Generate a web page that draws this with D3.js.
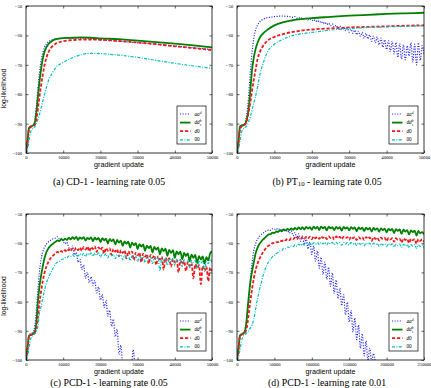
<!DOCTYPE html>
<html><head><meta charset="utf-8">
<script src="https://cdn.jsdelivr.net/npm/d3@7"></script>
<style>body{margin:0;background:#fff}svg{display:block}</style>
</head><body><svg id="c" width="431" height="388"></svg>
<script>
// ---------------- DATA ----------------
const seriesNames = ["aa", "dd", "d0", "00"];
const yTicks = [-100, -90, -80, -70, -60, -50];
const xTicks50k = [0, 10000, 20000, 30000, 40000, 50000];
const xTicks250k = [0, 50000, 100000, 150000, 200000, 250000];
const captions = ["CD-1 - learning rate 0.05", "PT", "PCD-1 - learning rate 0.05", "PCD-1 - learning rate 0.01"];

// Panel (a) CD-1 : smooth curves
const aX   = [0,400,800,1200,1600,2000,2400,2800,3200,3600,4000,4500,5000,5500,6000,7000,8000,10000,12500,15000,17500,20000,25000,30000,35000,40000,45000,50000];
const aAA  = [-100,-96,-91.5,-91,-90.8,-90.3,-88.5,-84,-78,-73,-69,-66,-64,-62.8,-62.2,-61.5,-61.2,-60.9,-60.9,-61,-61.2,-61.5,-62,-62.5,-63,-63.6,-64.2,-64.8];
const aDD  = [-100,-96,-91.5,-91,-90.8,-90.5,-89.5,-86,-81,-76,-72,-68,-65.5,-64,-63,-61.9,-61.3,-60.9,-60.8,-60.7,-60.8,-61,-61.3,-61.8,-62.3,-62.8,-63.4,-64.1];
const aD0  = [-100,-97,-92,-91.3,-91,-90.8,-90.3,-88.5,-85,-81,-77.5,-73.5,-70,-67.5,-65.8,-63.8,-62.8,-62,-61.6,-61.4,-61.4,-61.5,-61.9,-62.4,-63,-63.7,-64.3,-65];
const a00  = [-100,-99,-96,-93,-92,-91.5,-91,-90,-88.5,-87,-85,-82.5,-80,-77.5,-75.5,-73,-71,-69.2,-67.6,-66.5,-66.1,-66.2,-66.7,-67.5,-68.5,-69.5,-70.4,-71.2];

// Panel (b) PT10
const bX   = aX;
const bDD  = [-100,-96,-91,-90.6,-90.5,-90.3,-89.5,-87.5,-84,-78,-72,-67.5,-64.5,-62.5,-61,-59.3,-58.2,-56.6,-55.5,-54.8,-54.4,-54.1,-53.7,-53.3,-53,-52.7,-52.5,-52.3];
const bD0  = [-100,-97,-92,-91,-90.8,-90.5,-89.8,-88,-85.5,-82.5,-79,-75,-71.5,-68,-66,-63.5,-62,-60.5,-59.5,-58.8,-58.3,-58,-57.6,-57.3,-57.1,-56.9,-56.7,-56.6];
const b00  = [-100,-99,-96,-93,-92,-91.5,-91,-90.3,-89,-87.5,-85.5,-83,-80.5,-77.5,-74,-69.5,-66,-63,-61.2,-60,-59.4,-59,-58.2,-57.7,-57.3,-57.1,-56.9,-56.7];
const bAArise = [[0,-100],[400,-96],[800,-91.5],[1200,-91],[1600,-90.7],[2000,-90.2],[2400,-88.5],[2800,-85],[3200,-79],[3600,-72],[4000,-66],[4500,-61],[5000,-58],[5500,-56.5],[6000,-55.5],[7000,-54.5],[8000,-54],[9000,-53.8],[10000,-53.6],[11000,-53.5],[12000,-53.4],[13000,-53.5],[14000,-53.6]];
// sampled every 500 from 14500
const bAAnoisy = [-53.7,-53.9,-53.6,-54.1,-53.9,-54.3,-54.0,-54.5,-54.2,-54.7,-54.4,-55.0,-54.6,-55.3,-54.9,-55.6,-55.2,-56.0,-55.5,-56.3,-55.8,-56.7,-56.1,-57.2,-56.5,-57.5,-56.8,-58.0,-57.2,-58.4,-57.5,-58.9,-57.9,-59.3,-58.2,-59.8,-58.6,-60.3,-59.0,-61.0,-59.3,-61.2,-59.8,-62.0,-60.2,-62.5,-60.5,-63.2,-60.9,-64.0,-61.5,-64.8,-61.8,-65.5,-62.0,-66.3,-62.4,-67.5,-62.8,-68.0,-63.2,-68.3,-63.5,-67.0,-62.5,-69.0,-63.0,-70.0,-62.5,-68.5,-63.5,-66.5];

// Panel (c) PCD-1 lr 0.05 : rise then noisy (every 500 from 8000)
const cRiseX = [0,400,800,1200,1600,2000,2400,2800,3200,3600,4000,4500,5000,5500,6000,6500,7000,7500];
const cDDrise = [-100,-96,-91.8,-91.4,-91.2,-91,-90.2,-87,-80,-75,-71.5,-68,-65,-63,-61.8,-61,-60.4,-59.9];
const cD0rise = [-100,-96.5,-92,-91.5,-91.3,-91,-90.5,-89,-85.5,-80.5,-77,-73,-70,-68,-66.5,-65.3,-64.6,-64.0];
const c00rise = [-100,-99,-96,-93,-92,-91.5,-91,-90.2,-88.5,-84,-82,-79,-76,-73.5,-72,-70.5,-69.2,-68];
const cAArise = [-100,-96,-91.5,-91,-90.8,-90.2,-88,-83,-76,-70,-66,-63,-61.3,-60.3,-59.6,-59.1,-58.7,-58.4];
const cDDnoisy = [-59.5,-59.0,-59.3,-58.6,-59.0,-58.4,-58.9,-58.1,-58.7,-57.9,-58.6,-57.8,-58.9,-58.0,-58.5,-57.9,-59.1,-58.2,-58.6,-58.0,-59.3,-58.1,-58.8,-58.2,-59.6,-58.3,-59.0,-58.4,-60.1,-58.6,-59.3,-58.7,-60.4,-58.9,-59.8,-59.1,-60.9,-59.4,-60.2,-59.5,-61.5,-59.8,-60.7,-60.0,-62.0,-60.3,-61.2,-60.4,-62.6,-60.8,-61.7,-60.9,-63.2,-61.3,-62.2,-61.4,-63.8,-61.8,-62.7,-61.9,-64.3,-62.3,-63.3,-62.4,-65.0,-62.8,-63.8,-62.9,-65.5,-63.3,-64.4,-63.5,-66.2,-63.9,-65.0,-64.0,-66.8,-64.4,-65.6,-64.5,-67.0,-64.8,-65.9,-63.5,-62.8];
const cD0noisy = [-63.4,-63.0,-63.3,-62.7,-63.1,-62.4,-62.9,-62.1,-62.7,-61.8,-62.5,-61.6,-62.4,-61.5,-62.6,-61.3,-62.2,-61.2,-62.8,-61.3,-62.0,-61.1,-63.0,-61.4,-62.3,-61.5,-63.5,-61.7,-62.6,-61.8,-64.0,-62.0,-62.9,-62.1,-64.5,-62.4,-63.3,-62.5,-65.2,-62.8,-63.7,-62.9,-65.8,-63.2,-64.2,-63.3,-66.5,-63.6,-64.6,-63.8,-67.0,-64.0,-65.0,-64.2,-67.5,-64.5,-65.6,-64.6,-69.0,-65.0,-66.0,-65.1,-68.0,-65.4,-66.5,-65.6,-70.0,-65.9,-67.2,-66.1,-69.5,-66.5,-67.8,-66.8,-72.0,-67.2,-68.5,-67.5,-74.0,-67.8,-69.5,-68.0,-73.0,-68.4,-69.5];
const c00noisy = [-67.0,-66.5,-66.2,-65.6,-65.4,-64.9,-65.0,-64.4,-64.6,-64.0,-64.5,-63.8,-64.4,-63.6,-64.2,-63.5,-64.6,-63.4,-64.0,-63.3,-64.5,-63.4,-64.1,-63.3,-64.8,-63.5,-64.2,-63.6,-65.0,-63.7,-64.3,-63.8,-65.3,-63.9,-64.5,-64.0,-65.6,-64.1,-64.7,-64.2,-66.0,-64.3,-65.0,-64.4,-66.3,-64.5,-65.2,-64.6,-66.6,-64.7,-65.4,-64.8,-67.0,-64.9,-65.6,-65.0,-69.5,-65.1,-65.8,-65.2,-67.5,-65.3,-66.0,-65.4,-67.8,-65.5,-66.2,-65.6,-68.0,-65.7,-66.4,-65.8,-68.4,-65.9,-66.6,-66.0,-68.8,-66.1,-66.8,-66.2,-69.0,-66.3,-67.0,-65.5,-66.5];
const cAAnoisy = [-58.2,-57.8,-58.6,-58.3,-59.4,-60.2,-59.6,-61.5,-62.0,-61.0,-64.0,-63.2,-66.5,-65.5,-69.0,-67.5,-72.0,-70.0,-73.5,-71.5,-74.5,-72.8,-77.0,-75.0,-79.5,-77.5,-82.0,-79.5,-85.0,-83.0,-88.5,-86.0,-92.0,-89.5,-98.0,-95.0,-101];
const cAAtail = [[28400,-101],[28800,-96.5],[29200,-101]];

// Panel (d) PCD-1 lr 0.01 : rise then noisy (every 2500 from 40000)
const dRiseX = [0,2000,4000,6000,8000,10000,12000,14000,16000,18000,20000,22500,25000,27500,30000,32500,35000,37500];
const dDDrise = [-100,-96,-91.6,-91.2,-91,-90.5,-88.5,-83,-77.5,-73,-69.8,-66.5,-63.4,-61.5,-60.3,-59.4,-58.7,-58.1];
const dD0rise = [-100,-96.5,-92,-91.4,-91.1,-90.8,-90,-87.5,-83.5,-79.5,-76,-72,-69,-67,-65.4,-64.1,-63,-62.1];
const d00rise = [-100,-99,-96.5,-93.5,-92,-91.5,-91,-90.5,-89.8,-89,-88,-86,-82.5,-79,-76,-73.5,-71,-69];
const dAArise = [-100,-96,-91.5,-91.1,-90.8,-90,-87.5,-84,-79.5,-72.5,-67,-62.5,-60,-58.6,-57.7,-57.0,-56.5,-56.0];
const dDDnoisy = [-57.5,-57.0,-56.9,-56.4,-56.5,-56.0,-56.1,-55.6,-55.9,-55.3,-55.6,-55.1,-55.5,-54.9,-55.4,-54.8,-55.3,-54.6,-55.2,-54.5,-55.3,-54.4,-55.0,-54.5,-55.4,-54.3,-55.0,-54.4,-55.5,-54.3,-54.9,-54.4,-55.6,-54.3,-54.9,-54.5,-55.5,-54.4,-55.0,-54.5,-55.7,-54.4,-55.0,-54.6,-55.6,-54.5,-55.1,-54.6,-55.9,-54.6,-55.2,-54.7,-55.8,-54.7,-55.3,-54.8,-56.0,-54.8,-55.4,-54.9,-56.1,-54.9,-55.5,-55.0,-56.3,-55.1,-55.6,-55.1,-56.5,-55.2,-55.8,-55.3,-56.8,-55.4,-56.0,-55.5,-57.0,-55.6,-56.2,-55.7,-57.4,-55.8,-56.6,-56.2,-57.0];
const dD0noisy = [-61.3,-60.8,-60.5,-60.0,-60.0,-59.6,-59.6,-59.1,-59.3,-58.8,-59.0,-58.5,-58.9,-58.3,-58.6,-58.1,-58.6,-58.0,-58.5,-57.9,-58.5,-57.8,-58.3,-57.8,-58.6,-57.7,-58.3,-57.8,-58.5,-57.7,-58.2,-57.8,-58.6,-57.7,-58.2,-57.8,-58.7,-57.7,-58.3,-57.8,-58.6,-57.8,-58.3,-57.9,-58.8,-57.8,-58.3,-57.9,-58.9,-57.9,-58.4,-58.0,-58.9,-57.9,-58.5,-58.0,-59.2,-58.0,-58.5,-58.1,-59.1,-58.1,-58.6,-58.2,-59.3,-58.2,-58.7,-58.3,-59.5,-58.3,-58.8,-58.4,-59.8,-58.4,-58.9,-58.5,-60.0,-58.5,-59.0,-58.6,-60.2,-58.6,-59.2,-58.7,-59.5];
const d00noisy = [-67.5,-66.3,-65.5,-64.6,-64.2,-63.5,-63.2,-62.6,-62.5,-61.8,-61.9,-61.3,-61.5,-60.9,-61.2,-60.6,-61.0,-60.3,-60.8,-60.1,-60.7,-60.0,-60.5,-59.9,-60.6,-59.8,-60.3,-59.8,-60.5,-59.7,-60.2,-59.7,-60.6,-59.7,-60.2,-59.7,-60.5,-59.7,-60.2,-59.8,-60.7,-59.8,-60.3,-59.8,-60.6,-59.8,-60.3,-59.9,-60.8,-59.9,-60.4,-59.9,-60.9,-60.0,-60.4,-60.0,-61.0,-60.0,-60.5,-60.1,-61.1,-60.1,-60.6,-60.2,-61.2,-60.2,-60.7,-60.2,-61.3,-60.3,-60.8,-60.3,-61.5,-60.4,-60.9,-60.4,-61.6,-60.5,-61.0,-60.5,-61.8,-60.6,-61.1,-60.6,-61.5];
const dAAnoisy = [-55.8,-55.4,-55.6,-55.1,-55.3,-54.9,-55.4,-55.0,-55.7,-55.2,-56.0,-55.6,-56.6,-55.8,-57.4,-56.4,-58.2,-56.8,-59.3,-57.6,-60.5,-58.2,-62.0,-59.6,-63.8,-61.0,-66.2,-62.6,-68.6,-64.8,-70.8,-66.5,-72.4,-68.2,-74.8,-70.2,-77.2,-72.6,-79.0,-75.4,-81.4,-77.6,-84.5,-80.2,-87.0,-83.0,-90.4,-85.6,-93.0,-88.0,-96.0,-91.0,-98.6,-93.5,-100.2,-96.0,-101,-97.8,-101];

// ---------------- BUILD ----------------
const zip = (xs, ys) => ys.map((y, i) => [xs[i], y]);
const grid = (start, step, ys) => ys.map((y, i) => [start + i * step, y]);

const panels = [
  { x0: 26, x1: 212, y0: 6, y1: 153, xmax: 50000, xt: xTicks50k, ylab: true, letter: "a", capX: 109, capY: 184.5,
    series: { aa: zip(aX, aAA), dd: zip(aX, aDD), d0: zip(aX, aD0), "00": zip(aX, a00) } },
  { x0: 237, x1: 424, y0: 6, y1: 153, xmax: 50000, xt: xTicks50k, ylab: false, letter: "b", capX: 327, capY: 184.5,
    series: { aa: bAArise.concat(grid(14500, 500, bAAnoisy)), dd: zip(bX, bDD), d0: zip(bX, bD0), "00": zip(bX, b00) } },
  { x0: 26, x1: 212, y0: 214, y1: 360, xmax: 50000, xt: xTicks50k, ylab: true, letter: "c", capX: 109, capY: 386.2,
    series: {
      aa: zip(cRiseX, cAArise).concat(grid(8000, 500, cAAnoisy)).concat(cAAtail),
      dd: zip(cRiseX, cDDrise).concat(grid(8000, 500, cDDnoisy)),
      d0: zip(cRiseX, cD0rise).concat(grid(8000, 500, cD0noisy)),
      "00": zip(cRiseX, c00rise).concat(grid(8000, 500, c00noisy)) } },
  { x0: 237, x1: 424, y0: 214, y1: 360, xmax: 250000, xt: xTicks250k, ylab: false, letter: "d", capX: 327, capY: 386.2,
    series: {
      aa: zip(dRiseX, dAArise).concat(grid(40000, 2500, dAAnoisy)),
      dd: zip(dRiseX, dDDrise).concat(grid(40000, 2500, dDDnoisy)),
      d0: zip(dRiseX, dD0rise).concat(grid(40000, 2500, dD0noisy)),
      "00": zip(dRiseX, d00rise).concat(grid(40000, 2500, d00noisy)) } }
];

const styles = {
  aa:   { color: "#2b2bf0", width: 1.2, dash: "1.1,1.5" },
  dd:   { color: "#008000", width: 1.8, dash: null },
  d0:   { color: "#f01818", width: 1.8, dash: "3.2,1.8" },
  "00": { color: "#00bfbf", width: 1.2, dash: "3,1.4,1,1.4" }
};

const svg = d3.select("#c");
const serif = "'Liberation Serif','DejaVu Serif',serif";
const sans = "'Liberation Sans','DejaVu Sans',sans-serif";
const fmtY = v => "\u2212" + Math.abs(v);

panels.forEach((p, pi) => {
  const x = d3.scaleLinear().domain([0, p.xmax]).range([p.x0, p.x1]);
  const y = d3.scaleLinear().domain([-100, -50]).range([p.y1, p.y0]);
  const g = svg.append("g");
  const cid = "clip" + pi;
  g.append("clipPath").attr("id", cid).append("rect")
    .attr("x", p.x0).attr("y", p.y0).attr("width", p.x1 - p.x0).attr("height", p.y1 - p.y0);

  const line = d3.line().x(d => x(d[0])).y(d => y(d[1])).curve(d3.curveMonotoneX);
  const plot = g.append("g").attr("clip-path", `url(#${cid})`);
  seriesNames.forEach(k => {
    const s = styles[k];
    plot.append("path").datum(p.series[k]).attr("d", line)
      .attr("fill", "none").attr("stroke", s.color).attr("stroke-width", s.width)
      .attr("stroke-dasharray", s.dash).attr("stroke-linejoin", "round");
  });

  // axes (ticks inside)
  const tsz = -2.5;
  const bx = g.append("g").attr("transform", `translate(0,${p.y1})`)
    .call(d3.axisBottom(x).tickValues(p.xt).tickSizeInner(tsz).tickSizeOuter(0).tickPadding(3).tickFormat(d3.format("d")));
  const tx = g.append("g").attr("transform", `translate(0,${p.y0})`)
    .call(d3.axisTop(x).tickValues(p.xt).tickSizeInner(tsz).tickSizeOuter(0).tickFormat(""));
  const ly = g.append("g").attr("transform", `translate(${p.x0},0)`)
    .call(d3.axisLeft(y).tickValues(yTicks).tickSizeInner(tsz).tickSizeOuter(0).tickPadding(4).tickFormat(fmtY));
  const ry = g.append("g").attr("transform", `translate(${p.x1},0)`)
    .call(d3.axisRight(y).tickValues(yTicks).tickSizeInner(tsz).tickSizeOuter(0).tickFormat(""));
  [bx, tx, ly, ry].forEach(a => {
    a.select(".domain").remove();
    a.selectAll("line").attr("stroke", "#000").attr("stroke-width", 0.6);
    a.selectAll("text").attr("font-family", serif).attr("font-size", 4.6).attr("fill", "#000");
  });
  g.append("rect").attr("x", p.x0).attr("y", p.y0).attr("width", p.x1 - p.x0).attr("height", p.y1 - p.y0)
    .attr("fill", "none").attr("stroke", "#000").attr("stroke-width", 0.8);

  // axis titles
  g.append("text").attr("x", (p.x0 + p.x1) / 2).attr("y", p.y1 + 13.5).attr("text-anchor", "middle")
    .attr("font-family", sans).attr("font-size", 7.2).text("gradient update");
  if (p.ylab) {
    const cy = (p.y0 + p.y1) / 2 + 9;
    g.append("text").attr("transform", `translate(${p.x0 - 20.5},${cy}) rotate(-90)`).attr("text-anchor", "middle")
      .attr("font-family", sans).attr("font-size", 6.8).text("log-likelihood");
  }

  // caption
  const cap = g.append("text").attr("x", p.capX).attr("y", p.capY).attr("text-anchor", "middle")
    .attr("font-family", serif).attr("font-size", 9.8);
  cap.append("tspan").text(`(${p.letter}) `);
  if (pi === 1) {
    cap.append("tspan").text("PT");
    cap.append("tspan").attr("font-size", 6.8).attr("dy", 1.8).text("10");
    cap.append("tspan").attr("dy", -1.8).text(" - learning rate 0.05");
  } else {
    cap.append("tspan").text(captions[pi]);
  }

  // legend
  const lw = 29, lh = 38;
  const lx = p.x1 - 6 - lw, ly0 = p.y1 - 9 - lh;
  const lg = g.append("g");
  lg.append("rect").attr("x", lx).attr("y", ly0).attr("width", lw).attr("height", lh)
    .attr("fill", "#fff").attr("stroke", "#000").attr("stroke-width", 0.7);
  seriesNames.forEach((k, i) => {
    const s = styles[k];
    const yy = ly0 + 8 + i * 8.6;
    lg.append("line").attr("x1", lx + 3).attr("x2", lx + 13.5).attr("y1", yy).attr("y2", yy)
      .attr("stroke", s.color).attr("stroke-width", s.width).attr("stroke-dasharray", s.dash);
    const t = lg.append("text").attr("x", lx + 17.5).attr("y", yy + 1.6)
      .attr("font-family", serif).attr("font-style", "italic").attr("font-size", 5.2);
    if (k === "aa") {
      t.append("tspan").text("aa");
      t.append("tspan").attr("font-size", 3.6).attr("dy", -2).text("d");
    } else if (k === "dd") {
      t.append("tspan").text("dd");
      t.append("tspan").attr("font-size", 3.6).attr("dy", -2).text("b");
      t.append("tspan").attr("font-size", 3.6).attr("dx", -1.8).attr("dy", 3.6).text("s");
    } else if (k === "d0") {
      t.append("tspan").text("d");
      t.append("tspan").attr("font-style", "normal").text("0");
    } else {
      t.append("tspan").attr("font-style", "normal").text("00");
    }
  });
});
</script></body></html>
